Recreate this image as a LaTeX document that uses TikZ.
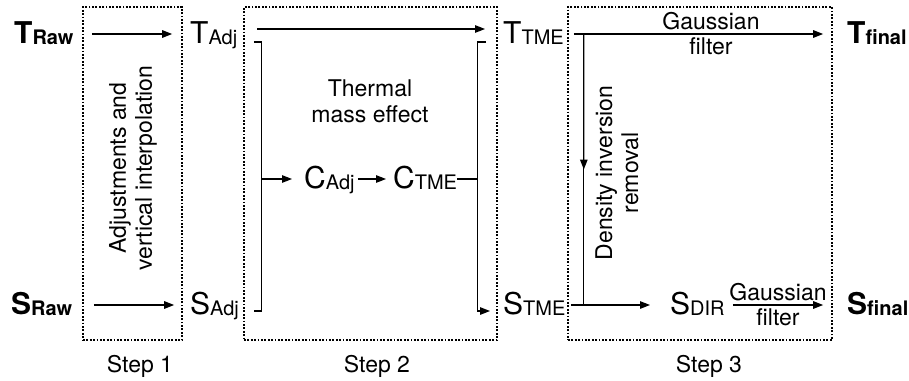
\documentclass[tikz,border=0pt]{standalone}
\usepackage{fontspec}
\setmainfont{TeX Gyre Heros}
\usetikzlibrary{arrows.meta, calc}

% variable with a subscript, plain and bold
\newcommand{\qsym}[2]{{\fontsize{30}{34}\selectfont #1}{\fontsize{20}{22}\selectfont\raisebox{-1.5pt}{#2}}}
\newcommand{\qbsym}[2]{{\bfseries\qsym{#1}{#2}}}

\begin{document}
\begin{tikzpicture}[x=1pt, y=-1pt, >={Triangle[length=10pt,width=7.5pt]},
  sym/.style={inner sep=0pt, anchor=west, text height=21pt, text depth=3pt},
  lbl/.style={font=\fontsize{23}{26}\selectfont, align=center, inner sep=2pt},
  stepbox/.style={draw, line width=2.4pt, dash pattern=on 1.8pt off 1.6pt, inner sep=0pt},
  flow/.style={line width=1.3pt}]

  \useasboundingbox (0,0) rectangle (909,380);

  % Dotted boxes of the three steps
  \node[stepbox, minimum width=99pt, minimum height=333pt] (box1) at (132.5,173.5) {};
  \node[stepbox, minimum width=253pt, minimum height=333pt] (box2) at (370.5,173.5) {};
  \node[stepbox, minimum width=264pt, minimum height=333pt] (box3) at (700,173.5) {};

  % Step captions
  \node[lbl] (step1) at (140,366) {Step 1};
  \node[lbl] (step2) at (377,366) {Step 2};
  \node[lbl] (step3) at (709,366) {Step 3};

  % Temperature row
  \node[sym] (traw) at (14,34) {\qbsym{T}{Raw}};
  \node[sym] (tadj) at (190,34) {\qsym{T}{Adj}};
  \node[sym] (ttme) at (503,34) {\qsym{T}{TME}};
  \node[sym] (tfin) at (847,34) {\qbsym{T}{final}};

  % Salinity row
  \node[sym] (sraw) at (11,305) {\qbsym{S}{Raw}};
  \node[sym] (sadj) at (190,305) {\qsym{S}{Adj}};
  \node[sym] (stme) at (503,305) {\qsym{S}{TME}};
  \node[sym] (sdir) at (670,305) {\qsym{S}{DIR}};
  \node[sym] (sfin) at (847,305) {\qbsym{S}{final}};

  % Conductivity
  \node[sym] (cadj) at (304,179) {\qsym{C}{Adj}};
  \node[sym] (ctme) at (393,179) {\qsym{C}{TME}};

  % Step texts
  \node[lbl, rotate=90] (adjtext) at (133,168) {Adjustments and\\vertical interpolation};
  \node[lbl] (tmetext) at (370,101) {Thermal\\mass effect};
  \node[lbl, rotate=90] (dirtext) at (617,173) {Density inversion\\removal};

  % Step 1
  \draw[->, flow] ($(box1.west |- traw.east)+(10,0)$) -- ($(box1.east |- tadj.west)+(-11,0)$);
  \draw[->, flow] ($(box1.west |- sraw.east)+(12,0)$) -- ($(box1.east |- sadj.west)+(-9,0)$);

  % Step 2
  \draw[->, flow] ($(tadj.east)+(20,-5)$) -- ($(ttme.west)+(-18,-5)$);
  \coordinate (lspine) at ($(box2.west |- tadj.east)+(19,0)$);
  \draw[flow] ($(lspine)+(-8,8)$) -- ($(lspine)+(0,8)$) -- ($(lspine |- sadj.east)+(0,6)$) -- ($(lspine |- sadj.east)+(-8,6)$);
  \draw[->, flow] (lspine |- cadj.west) -- ($(cadj.west)+(-12,0)$);
  \draw[->, flow] ($(cadj.east)+(3,0)$) -- ($(ctme.west)+(-7,0)$);
  \coordinate (rspine) at ($(box2.east |- ttme.west)+(-21,0)$);
  \draw[flow] (ctme.east) -- (rspine |- ctme.east);
  \draw[flow] ($(rspine)+(9,8)$) -- ($(rspine)+(0,8)$) -- ($(rspine |- stme.west)+(0,6)$);
  \draw[->, flow] ($(rspine |- stme.west)+(0,6)$) -- ($(stme.west)+(-13,6)$);

  % Step 3
  \draw[->, flow] ($(box3.west |- ttme.east)+(7,0)$) -- ($(box3.east |- tfin.west)+(-10,0)$)
    node[lbl, pos=0.55, above=1pt] (gtop) {Gaussian}
    node[lbl, pos=0.55, below=1pt] (ftop) {filter};
  \coordinate (dtop) at ($(box3.west |- ttme.east)+(17,0)$);
  \coordinate (dbot) at (dtop |- stme.east);
  \draw[flow] (dtop) -- (dbot);
  \draw[->, flow] (dtop) -- ($(dtop)!0.5!(dbot)$);
  \draw[->, flow] ($(box3.west |- stme.east)+(4,0)$) -- ($(sdir.west)+(-20,0)$);
  \draw[->, flow] ($(sdir.east)+(8,0)$) -- ($(box3.east |- sfin.west)+(-10,0)$)
    node[lbl, midway, above=1pt] (gbot) {Gaussian}
    node[lbl, midway, below=1pt] (fbot) {filter};

\end{tikzpicture}
\end{document}
